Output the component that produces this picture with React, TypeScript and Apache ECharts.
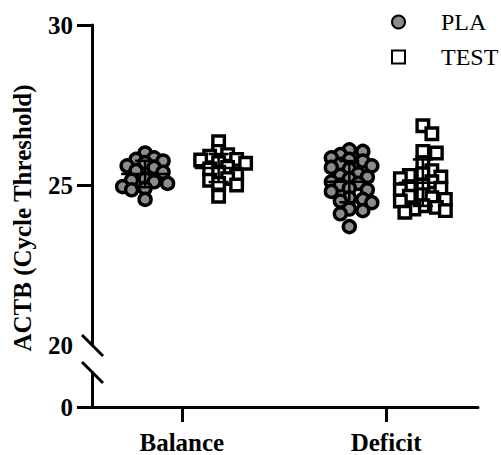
import React, { useEffect, useRef } from "react";
import * as echarts from "echarts";

// ---- Data ----
const CATEGORIES = ["Balance", "Deficit"];
const SERIES_NAMES = ["PLA", "TEST"];
const PLA_BALANCE = [26.0, 25.85, 25.8, 25.75, 25.7, 25.6, 25.55, 25.45, 25.4, 25.2, 25.15, 25.1, 25.05, 24.95, 24.9, 24.85, 24.55];
const TEST_BALANCE = [26.35, 26.05, 25.95, 25.9, 25.8, 25.78, 25.7, 25.68, 25.55, 25.5, 25.4, 25.3, 25.2, 25.15, 25.05, 25.0, 24.65];
const PLA_DEFICIT = [26.1, 26.05, 25.95, 25.85, 25.8, 25.75, 25.65, 25.6, 25.55, 25.5, 25.35, 25.3, 25.25, 25.2, 25.1, 25.05, 25.0, 24.9, 24.85, 24.8, 24.6, 24.55, 24.5, 24.45, 24.25, 24.2, 24.1, 23.7];
const TEST_DEFICIT = [26.85, 26.6, 26.05, 26.0, 25.7, 25.45, 25.35, 25.3, 25.25, 25.2, 25.1, 25.0, 24.95, 24.9, 24.85, 24.7, 24.65, 24.6, 24.55, 24.5, 24.35, 24.3, 24.25, 24.2, 24.15];
const Y_UPPER_LABELS = [20, 25, 30];
const Y_UPPER_TICKS = [25, 30];
const Y_LOWER_TICKS = [0];
const AXIS_TITLE = "ACTB (Cycle Threshold)";

// ---- Layout constants ----
const W = 501;
const H = 455;
const GRID_LEFT = 92;
const GRID_RIGHT = 23;
const X_MIN = 0.56;
const X_MAX = 2.45;
const UP_TOP = 25;
const UP_HEIGHT = 320; // 20..30
const LOW_TOP = 373;
const LOW_HEIGHT = 35;
const GROUP_OFFSET = 0.18;
const FONT = "'Liberation Serif', 'Times New Roman', serif";

const PX_PER_X = (W - GRID_LEFT - GRID_RIGHT) / (X_MAX - X_MIN);
const PX_PER_Y = UP_HEIGHT / 10;

// simple beeswarm: returns x offsets (in axis units) for each value
function swarm(values: number[]): number[] {
  const D = 9.5;
  const step = 4.5;
  const order = values.map((v, i) => i).sort((a, b) => values[b] - values[a]);
  const placed: { x: number; y: number }[] = [];
  const out: number[] = new Array(values.length).fill(0);
  for (const i of order) {
    const y = values[i] * PX_PER_Y;
    for (let k = 0; k < 40; k++) {
      const m = Math.ceil(k / 2) * (k % 2 === 1 ? 1 : -1);
      const x = m * step;
      const hit = placed.some((p) => Math.hypot(p.x - x, p.y - y) < D);
      if (!hit) {
        placed.push({ x, y });
        out[i] = x / PX_PER_X;
        break;
      }
    }
  }
  return out;
}

function mean(a: number[]) {
  return a.reduce((s, v) => s + v, 0) / a.length;
}
function sd(a: number[]) {
  const m = mean(a);
  return Math.sqrt(a.reduce((s, v) => s + (v - m) * (v - m), 0) / (a.length - 1));
}

function points(vals: number[], center: number) {
  const offs = swarm(vals);
  return vals.map((v, i) => [center + offs[i], v]);
}

export default function App() {
  const ref = useRef<HTMLDivElement>(null);
  useEffect(() => {
    if (!ref.current) return;
    const chart = echarts.init(ref.current, undefined, { renderer: "svg" });

    const groups = [
      { vals: PLA_BALANCE, c: 1 - GROUP_OFFSET },
      { vals: TEST_BALANCE, c: 1 + GROUP_OFFSET },
      { vals: PLA_DEFICIT, c: 2 - GROUP_OFFSET },
      { vals: TEST_DEFICIT, c: 2 + GROUP_OFFSET },
    ];
    const plaData = [...points(PLA_BALANCE, 1 - GROUP_OFFSET), ...points(PLA_DEFICIT, 2 - GROUP_OFFSET)];
    const testData = [...points(TEST_BALANCE, 1 + GROUP_OFFSET), ...points(TEST_DEFICIT, 2 + GROUP_OFFSET)];
    const statData = groups.map((g) => [g.c, mean(g.vals), sd(g.vals)]);

    const labelStyle = { color: "#000", fontFamily: FONT, fontWeight: "bold" as const, fontSize: 25 };

    chart.setOption({
      animation: false,
      backgroundColor: "#fff",
      grid: [
        { left: GRID_LEFT, right: GRID_RIGHT, top: UP_TOP, height: UP_HEIGHT },
        { left: GRID_LEFT, right: GRID_RIGHT, top: LOW_TOP, height: LOW_HEIGHT },
      ],
      xAxis: [
        { type: "value", gridIndex: 0, min: X_MIN, max: X_MAX, show: false },
        {
          type: "value",
          gridIndex: 1,
          min: X_MIN,
          max: X_MAX,
          axisLine: { show: true, onZero: false, lineStyle: { color: "#000", width: 3 } },
          axisTick: { show: true, customValues: [1, 2], length: 15, lineStyle: { color: "#000", width: 3 } },
          axisLabel: {
            show: true,
            customValues: [1, 2],
            formatter: (v: number) => CATEGORIES[Math.round(v) - 1] ?? "",
            margin: 23,
            ...labelStyle,
          },
          splitLine: { show: false },
        },
      ],
      yAxis: [
        {
          type: "value",
          gridIndex: 0,
          min: 20,
          max: 30,
          axisLine: { show: true, lineStyle: { color: "#000", width: 3 } },
          axisTick: { show: true, customValues: Y_UPPER_TICKS, length: 15, lineStyle: { color: "#000", width: 3 } },
          axisLabel: { show: true, customValues: Y_UPPER_LABELS, margin: 19, ...labelStyle },
          splitLine: { show: false },
        },
        {
          type: "value",
          gridIndex: 1,
          min: 0,
          max: 1,
          axisLine: { show: true, lineStyle: { color: "#000", width: 3 } },
          axisTick: { show: true, customValues: Y_LOWER_TICKS, length: 15, lineStyle: { color: "#000", width: 3 } },
          axisLabel: { show: true, customValues: Y_LOWER_TICKS, margin: 19, ...labelStyle },
          splitLine: { show: false },
        },
      ],
      legend: {
        data: SERIES_NAMES,
        orient: "vertical",
        left: 386,
        top: 5,
        itemWidth: 13,
        itemHeight: 13,
        itemGap: 11,
        textStyle: { color: "#000", fontFamily: FONT, fontSize: 24, padding: [0, 0, 0, 31] },
      },
      graphic: [
        {
          type: "text",
          x: 22,
          y: 218,
          rotation: Math.PI / 2,
          style: {
            text: AXIS_TITLE,
            fill: "#000",
            font: `bold 25px ${FONT}`,
            align: "center",
            verticalAlign: "middle",
          },
        },
        { type: "line", shape: { x1: 82, y1: 335, x2: 103, y2: 356 }, style: { stroke: "#000", lineWidth: 3 } },
        { type: "line", shape: { x1: 82, y1: 362, x2: 103, y2: 383 }, style: { stroke: "#000", lineWidth: 3 } },
      ],
      series: [
        {
          name: "PLA",
          type: "scatter",
          xAxisIndex: 0,
          yAxisIndex: 0,
          symbol: "circle",
          symbolSize: 12,
          itemStyle: { color: "#8c8c8c", borderColor: "#000", borderWidth: 3.4, opacity: 1 },
          data: plaData,
        },
        {
          name: "TEST",
          type: "scatter",
          xAxisIndex: 0,
          yAxisIndex: 0,
          symbol: "rect",
          symbolSize: 11.5,
          itemStyle: { color: "#fff", borderColor: "#000", borderWidth: 3.4, opacity: 1 },
          data: testData,
        },
        {
          name: "stats",
          type: "custom",
          xAxisIndex: 0,
          yAxisIndex: 0,
          z: 5,
          encode: { x: 0, y: 1 },
          data: statData,
          renderItem: (params: any, api: any) => {
            const x = api.value(0);
            const m = api.value(1);
            const s = api.value(2);
            const c = api.coord([x, m]);
            const t = api.coord([x, m + s]);
            const b = api.coord([x, m - s]);
            const st = { stroke: "#000", lineWidth: 2.5 };
            return {
              type: "group",
              children: [
                { type: "line", shape: { x1: c[0] - 24, y1: c[1], x2: c[0] + 24, y2: c[1] }, style: st },
                { type: "line", shape: { x1: c[0], y1: t[1], x2: c[0], y2: b[1] }, style: st },
                { type: "line", shape: { x1: c[0] - 10, y1: t[1], x2: c[0] + 10, y2: t[1] }, style: st },
                { type: "line", shape: { x1: c[0] - 10, y1: b[1], x2: c[0] + 10, y2: b[1] }, style: st },
              ],
            };
          },
        },
      ],
    });
    return () => chart.dispose();
  }, []);
  return (
    <div
      ref={ref}
      style={{ position: "fixed", left: 0, top: 0, width: W, height: H, background: "#fff" }}
    />
  );
}
